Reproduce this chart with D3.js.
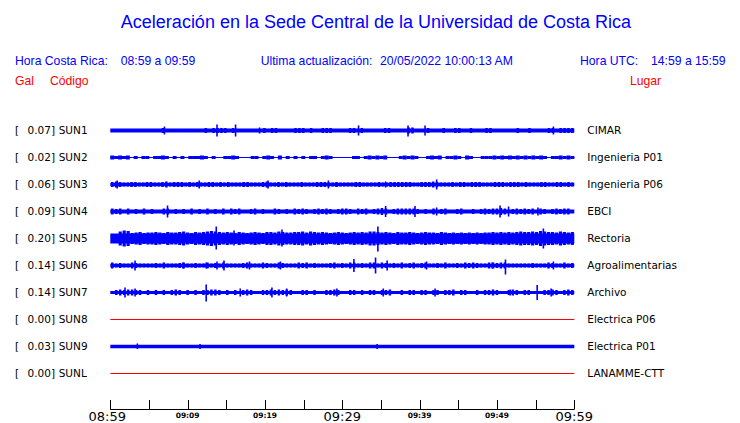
<!DOCTYPE html>
<html><head><meta charset="utf-8">
<script src="https://cdn.jsdelivr.net/npm/d3@7/dist/d3.min.js"></script>
<style>body{margin:0;background:#fff}svg{display:block}</style>
</head><body><svg id="c" width="740" height="423"></svg>
<script>
// ---------- data ----------
const codes  = ["SUN1","SUN2","SUN3","SUN4","SUN5","SUN6","SUN7","SUN8","SUN9","SUNL"];
const peaks  = ["0.07","0.02","0.06","0.09","0.20","0.14","0.14","0.00","0.03","0.00"];
const places = ["CIMAR","Ingenieria P01","Ingenieria P06","EBCI","Rectoria","Agroalimentarias","Archivo","Electrica P06","Electrica P01","LANAMME-CTT"];
// steady band height of each trace
const baseHeights = [4,1,3.5,4,10,3.5,3,0,3.5,0];
// envelope height per time block (base-36 digit)
const envSUN1 = "44444444444445444444444454555545444444454554444555454455544445545444445544446644454445445544544455444444544544445545555";
const envSUN2 = "43434131331334313131333431311334311133134314131313133134311111331343434111343431134341334314311333434343434343431334343";
const envSUN3 = "565445544554456455545454455454544455444564454544454445554454444554444544555555445556544454554555444555455545444554455454";
const envSUN4 = "656464546454466454546454645464656445645446545465654565654566546564567645666665454645644564454565667645656564654565664";
const envSUN5 = "99egfbcdbccdcbdccdecbdcdefedcdcbdcbcdcbddcedccddecedcdcbcdcbcdcdceedcdcbdccdcbcdccbdcbcbcbcbcbccdcdcdcdeddedfeddcedcd";
const envSUN6 = "645446544445464445644544645464444564446544654446564544456454664546646545464564564454644546565446656644444454446544645";
const envSUN7 = "356566553535353565353535566535353565335565656533553533556533553535535563353553553553556355335355653356535533355653565";
const envSUN8 = "0";
const envSUN9 = "3";
const envSUNL = "0";
const envelopes = [envSUN1,envSUN2,envSUN3,envSUN4,envSUN5,envSUN6,envSUN7,envSUN8,envSUN9,envSUNL];
// isolated peaks: [minute after 08:59, amplitude up, amplitude down]
const spikesSUN1 = [[7.0,4,4],[13.8,6,6],[16.2,6,6],[19.3,3,3],[32.1,5,5],[38.5,5,6],[40.7,5,5],[57.3,4,4]];
const spikesSUN2 = [];
const spikesSUN3 = [[0.9,4,4],[11.5,4,4],[20.4,4,4],[28.2,4,4],[35.6,3,3],[42.2,5,5]];
const spikesSUN4 = [[7.4,6,6],[35.6,5.5,5.5],[39.4,5.5,5.5],[42.2,4,4],[50.4,6,6],[51.5,5,5],[55.3,4,4]];
const spikesSUN5 = [[13.7,12,11],[16.0,8,7],[22.2,9,8],[34.6,12,13],[56.0,10,10]];
const spikesSUN6 = [[3.2,5,5],[9.4,3,3],[12.4,3,3],[13.8,4,4],[14.7,5,5],[18.0,4,4],[22.0,4,4],[31.5,6.5,6.5],[34.3,8,8],[35.8,5,5],[40.9,4,4],[49.4,3,3],[51.1,6,9],[57.3,4,4]];
const spikesSUN7 = [[1.9,5,5],[3.2,4,4],[12.4,8,9],[16.8,4,4],[20.9,5,5],[22.8,4,4],[29.3,4,4],[35.3,4,4],[42.0,4,4],[51.7,3,3],[55.2,7.5,7.5],[57.0,4,4]];
const spikesSUN8 = [];
const spikesSUN9 = [[3.5,3,2.5],[11.6,2.5,2.5],[34.5,2.5,2.5]];
const spikesSUNL = [];
const spikes = [spikesSUN1,spikesSUN2,spikesSUN3,spikesSUN4,spikesSUN5,spikesSUN6,spikesSUN7,spikesSUN8,spikesSUN9,spikesSUNL];
const tickMinutes = [0,5,10,15,20,25,30,35,40,45,50,55,60];
const tickLabels  = ["08:59","","09:09","","09:19","","09:29","","09:39","","09:49","","09:59"];
const majorTicks  = [0,30,60];

// ---------- drawing ----------
const svg = d3.select("#c");
const BLUE = "#0000ff", RED = "#ff0000";
const x = d3.scaleLinear().domain([0,60]).range([110.3,574.3]);
const row = d3.scalePoint().domain(codes).range([130,373]);
const amp = d3.scaleLinear().domain([0,1]).range([0,1]);
const barW = {SUN2:4, SUN5:3.2};

svg.append("text").attr("x",376).attr("y",28).attr("text-anchor","middle")
  .attr("font-family","Liberation Sans, Arial, sans-serif").attr("font-size",18).attr("fill",BLUE)
  .text("Aceleración en la Sede Central de la Universidad de Costa Rica");

const hdr = [
  {t:"Hora Costa Rica:",x:15,y:65,c:BLUE},{t:"08:59 a 09:59",x:120.7,y:65,c:BLUE},
  {t:"Ultima actualización:",x:260.7,y:65,c:BLUE},{t:"20/05/2022 10:00:13 AM",x:380,y:65,c:BLUE},
  {t:"Hora UTC:",x:580,y:65,c:BLUE},{t:"14:59 a 15:59",x:651,y:65,c:BLUE},
  {t:"Gal",x:15,y:85,c:RED},{t:"Código",x:50,y:85,c:RED},{t:"Lugar",x:630,y:85,c:RED}
];
svg.selectAll("text.hdr").data(hdr).enter().append("text").attr("class","hdr")
  .attr("x",d=>d.x).attr("y",d=>d.y).attr("fill",d=>d.c)
  .attr("font-family","Liberation Sans, Arial, sans-serif").attr("font-size",12.2).text(d=>d.t);

const lab = svg.append("g").attr("font-family","DejaVu Sans, sans-serif").attr("font-size",10.5).attr("fill","#000");
codes.forEach((c,i)=>{
  const y = row(c)+4;
  lab.append("text").attr("x",15).attr("y",y).text("[");
  lab.append("text").attr("x",55).attr("y",y).attr("text-anchor","end").text(peaks[i]+"]");
  lab.append("text").attr("x",58.7).attr("y",y).text(c);
  lab.append("text").attr("x",587.3).attr("y",y).text(places[i]);
});

codes.forEach((c,i)=>{
  const cy = row(c)+0.5;
  const vals = Array.from(envelopes[i], ch=>parseInt(ch,36));
  const n = vals.length;
  const g = svg.append("g");
  if (d3.max(vals) === 0) {
    g.append("line").attr("x1",x(0)).attr("x2",x(60)).attr("y1",cy).attr("y2",cy)
      .attr("stroke",RED).attr("stroke-width",1);
    return;
  }
  const b = amp(baseHeights[i]);
  const w = barW[c] || 2.5;
  // steady band
  g.append("rect").attr("x",x(0)).attr("width",x(60)-x(0)).attr("y",cy-b/2).attr("height",b).attr("fill",BLUE);
  // narrow excursions per block
  const blocks = vals.map((v,k)=>({t:(k+0.5)*60/n,h:v})).filter(d=>d.h>baseHeights[i]);
  g.selectAll(null).data(blocks).enter().append("rect")
    .attr("x",d=>x(d.t)-w/2).attr("width",w)
    .attr("y",d=>cy-amp(d.h)/2).attr("height",d=>amp(d.h)).attr("fill",BLUE);
  g.selectAll(null).data(spikes[i]).enter().append("line")
    .attr("x1",d=>x(d[0])).attr("x2",d=>x(d[0]))
    .attr("y1",d=>cy-amp(d[1])).attr("y2",d=>cy+amp(d[2]))
    .attr("stroke",BLUE).attr("stroke-width",1.6);
});

// time axis
const ax = svg.append("g");
ax.append("line").attr("x1",x(0)).attr("x2",x(60)).attr("y1",409.5).attr("y2",409.5).attr("stroke","#000");
ax.selectAll("line.tk").data(tickMinutes).enter().append("line").attr("class","tk")
  .attr("x1",d=>Math.round(x(d))+0.5).attr("x2",d=>Math.round(x(d))+0.5).attr("y1",400).attr("y2",409.5).attr("stroke","#000");
ax.selectAll("text.tl").data(tickMinutes).enter().append("text").attr("class","tl")
  .attr("x",d=>x(d)).attr("text-anchor","middle")
  .attr("dx",d=>d===0?-3:0)
  .attr("y",d=>majorTicks.includes(d)?421:418)
  .attr("font-family","DejaVu Sans, sans-serif")
  .attr("font-size",d=>majorTicks.includes(d)?13:7.5)
  .attr("font-weight",d=>majorTicks.includes(d)?"normal":"bold")
  .attr("fill","#000")
  .text((d,i)=>tickLabels[i]);
</script></body></html>
